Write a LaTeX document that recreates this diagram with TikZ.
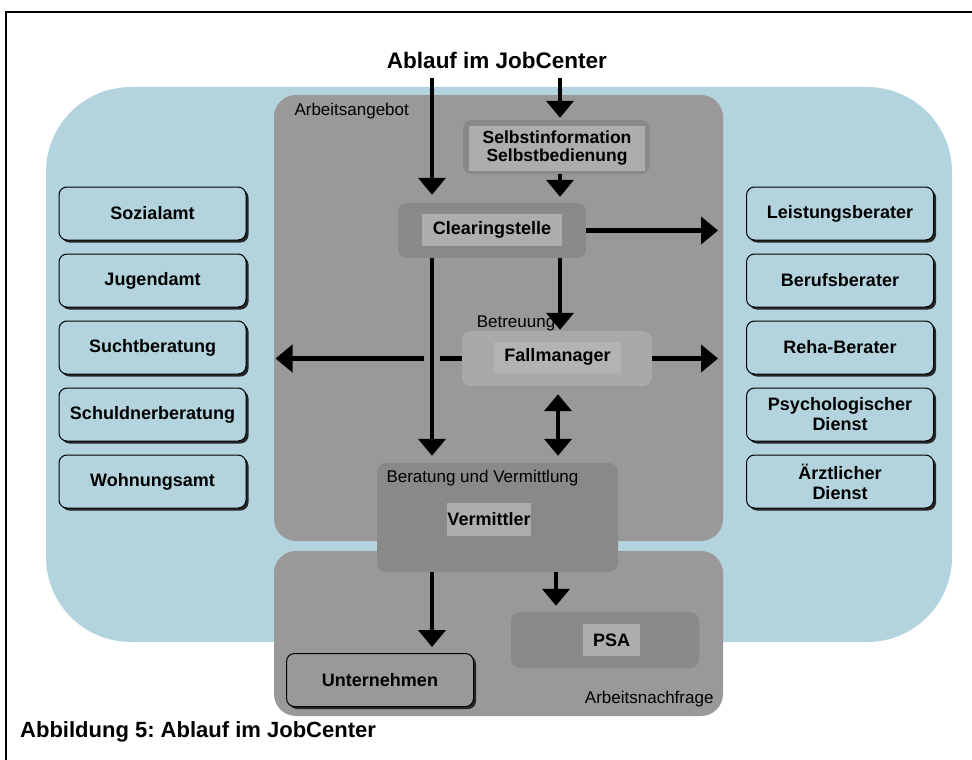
\documentclass[tikz,border=0pt]{standalone}
\usepackage{fontspec}
\setmainfont{Liberation Sans}
\usetikzlibrary{arrows.meta,calc}
\definecolor{blob}{HTML}{B3D4DE}
\definecolor{panel}{HTML}{999999}
\definecolor{outerg}{HTML}{898989}
\definecolor{innerg}{HTML}{ADADAD}
\definecolor{fallo}{HTML}{A9A9A9}
\definecolor{falli}{HTML}{B3B3B3}
\frenchspacing
\begin{document}
\begin{tikzpicture}[x=1pt,y=-1pt,
  boxtxt/.style={font=\fontsize{18}{20}\selectfont\bfseries, align=center},
  lbl/.style={font=\fontsize{17}{19}\selectfont},
  sidebox/.style={boxtxt, draw=black, line width=1pt, fill=blob, rounded corners=8pt,
     minimum width=187pt, minimum height=53pt, inner sep=0pt,
     preaction={fill=black!85, transform canvas={shift={(2.5pt,-2.5pt)}}}},
  outerbox/.style={fill=outerg, rounded corners=9pt, inner sep=0pt},
  innerbox/.style={boxtxt, fill=innerg, inner sep=0pt},
  arr/.style={line width=4.5pt, -{Triangle[length=17pt,width=27pt]}},
  darr/.style={line width=4.5pt, {Triangle[length=17pt,width=27pt]}-{Triangle[length=17pt,width=27pt]}},
  plain/.style={line width=4.5pt}
]
\useasboundingbox (0,0) rectangle (972,760);
% frame
\draw[line width=2pt] (6,760) -- (6,12) -- (972,12);
% blue background
\fill[blob, rounded corners=85pt] (46,87) rectangle (952,642);
% panels
\fill[panel, rounded corners=22pt] (274,95) rectangle (723,541);
\fill[panel, rounded corners=22pt] (274,551) rectangle (723,716);
\node[lbl, anchor=west] (angebot) at (291,111) {Arbeitsangebot};
\node[lbl, anchor=east] (nachfrage) at (717,699) {Arbeitsnachfrage};

% title and caption
\node[font=\fontsize{22.5}{24}\selectfont\bfseries, anchor=base] (title) at (497,69) {Ablauf im JobCenter};
\node[font=\fontsize{22}{24}\selectfont\bfseries, anchor=base west, inner sep=0pt] (caption) at (20,737) {Abbildung 5: Ablauf im JobCenter};

% inner boxes
\node[outerbox, minimum width=187pt, minimum height=54pt] (selbst) at (556.5,147) {};
\node[innerbox, minimum width=176pt, minimum height=45pt, font=\fontsize{17.5}{18}\selectfont\bfseries] (selbstt) at (557,148) {Selbstinformation\\Selbstbedienung};

\node[outerbox, minimum width=188pt, minimum height=55pt] (clear) at (492,230.5) {};
\node[innerbox, minimum width=140pt, minimum height=32pt] (cleart) at (492,230) {Clearingstelle};

\node[fill=fallo, rounded corners=9pt, inner sep=0pt, minimum width=190pt, minimum height=55pt] (fall) at (557,358.5) {};
\node[innerbox, fill=falli, minimum width=127pt, minimum height=31pt] (fallt) at (557.5,357) {Fallmanager};
\node[lbl, anchor=base] (betreuung) at (516,327) {Betreuung};

\node[outerbox, minimum width=241pt, minimum height=109pt] (verm) at (497.5,517.5) {};
\node[lbl, anchor=west] (vermlbl) at (383,478) {Beratung und Vermittlung};
\node[innerbox, minimum width=78pt, minimum height=33pt] (vermt) at (489,519.5) {Vermittler};

\node[outerbox, minimum width=188pt, minimum height=56pt] (psa) at (605,640) {};
\node[innerbox, minimum width=57pt, minimum height=32pt] (psat) at (611.5,640) {PSA};

\node[sidebox, fill=panel] (untern) at (380,680) {Unternehmen};

% left boxes
\node[sidebox] (sozial) at (152.5,213.5) {Sozialamt};
\node[sidebox] (jugend) at (152.5,280.5) {Jugendamt};
\node[sidebox] (sucht) at (152.5,347.5) {Suchtberatung};
\node[sidebox] (schuld) at (152.5,414.5) {Schuldnerberatung};
\node[sidebox] (wohn) at (152.5,481.5) {Wohnungsamt};
% right boxes
\node[sidebox] (leist) at (840,213.5) {Leistungsberater};
\node[sidebox] (beruf) at (840,280.5) {Berufsberater};
\node[sidebox] (reha) at (840,347.5) {Reha-Berater};
\node[sidebox] (psych) at (840,414.5) {Psychologischer\\Dienst};
\node[sidebox] (arzt) at (840,481.5) {Ärztlicher\\Dienst};

% helper coordinates
\coordinate (xa) at (432,0);
\coordinate (xb) at (560,0);
\coordinate (xc) at (558,0);
\coordinate (xd) at (556,0);
\coordinate (topA) at (432,78);
\coordinate (topB) at (560,78);
\coordinate (gapR) at (440,358.5);
\coordinate (gapL) at (424,358.5);

% arrows
\draw[arr, shorten >=8pt] (topA) -- (clear.north -| xa);
\draw[arr, shorten >=2pt] (topB) -- (selbst.north -| xb);
\draw[arr, shorten >=6pt] (selbst.south -| xb) -- (clear.north -| xb);
\draw[arr, shorten >=28pt] (clear.east) -- (clear.east -| leist.west);
\draw[arr, shorten >=1pt] (clear.south -| xb) -- (fall.north -| xb);
\draw[arr, shorten >=7pt] (clear.south -| xa) -- (verm.north -| xa);
\draw[plain] (fall.west) -- (gapR);
\draw[arr, shorten >=29pt] (gapL) -- (gapL -| sucht.east);
\draw[arr, shorten >=28pt] (fall.east) -- (fall.east -| reha.west);
\draw[darr, shorten <=8pt, shorten >=7pt] (fall.south -| xc) -- (verm.north -| xc);
\draw[arr, shorten >=6pt] (verm.south -| xa) -- (untern.north -| xa);
\draw[arr, shorten >=6pt] (verm.south -| xd) -- (psa.north -| xd);
\end{tikzpicture}
\end{document}
